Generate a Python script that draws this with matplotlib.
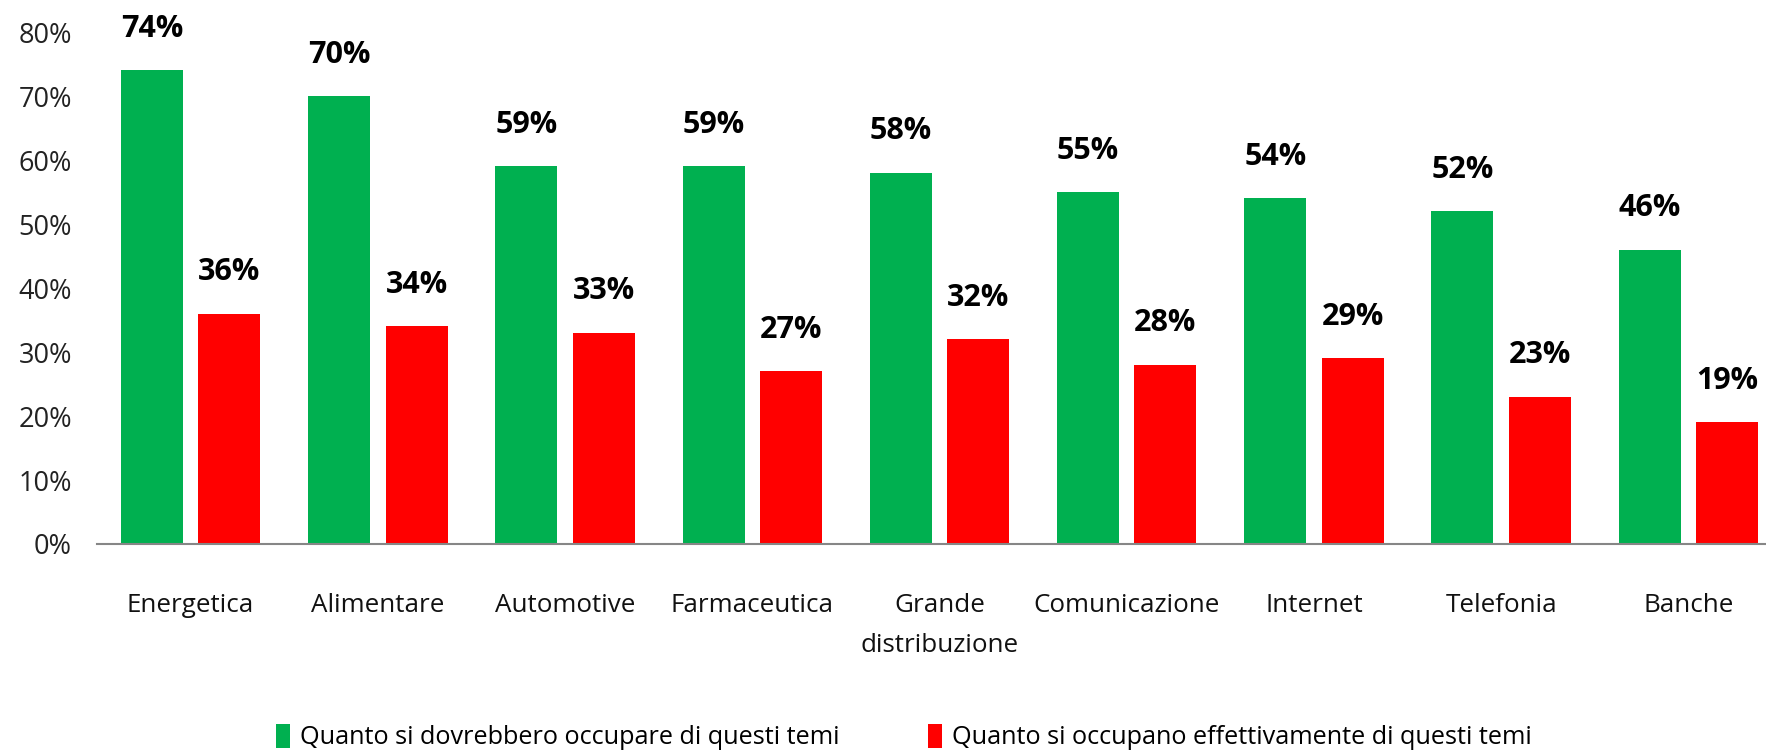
import matplotlib
matplotlib.use("Agg")
import matplotlib.pyplot as plt
import numpy as np
from matplotlib.ticker import FuncFormatter

categories = ["Energetica", "Alimentare", "Automotive", "Farmaceutica", "Grande\ndistribuzione",
              "Comunicazione", "Internet", "Telefonia", "Banche"]
dovrebbero = [74, 70, 59, 59, 58, 55, 54, 52, 46]
effettivamente = [36, 34, 33, 27, 32, 28, 29, 23, 19]
series_names = ["Quanto si dovrebbero occupare di questi temi",
                "Quanto si occupano effettivamente di questi temi"]
yticks = [0, 10, 20, 30, 40, 50, 60, 70, 80]

plt.rcParams['font.family'] = ['Open Sans', 'DejaVu Sans']

W, H = 1766, 755
fig = plt.figure(figsize=(W/100, H/100), dpi=100)
left = 97 / W
right = 1782 / W
bottom = (H - 544) / H
top = (H - 32) / H
ax = fig.add_axes([left, bottom, right - left, top - bottom])

x = np.arange(len(categories))
bw = 0.331
gap = 0.083
off = (bw + gap) / 2
green = "#00B050"
red = "#FF0000"
b1 = ax.bar(x - off, dovrebbero, bw, color=green, label=series_names[0])
b2 = ax.bar(x + off, effettivamente, bw, color=red, label=series_names[1])

for bars, vals in ((b1, dovrebbero), (b2, effettivamente)):
    for r, v in zip(bars, vals):
        ax.annotate(f"{v}%", (r.get_x() + r.get_width() / 2, v), xytext=(0, 19),
                    textcoords="offset points", ha="center", va="bottom",
                    fontsize=22, fontweight="bold", color="#000000")

ax.set_xlim(-0.5, len(categories) - 0.5)
ax.set_ylim(0, 80)
ax.set_yticks(yticks)
ax.yaxis.set_major_formatter(FuncFormatter(lambda v, p: f"{int(v)}%"))
ax.set_xticks(x)
ax.set_xticklabels(categories, linespacing=1.8)
ax.tick_params(axis="y", length=0, pad=18, labelsize=19.5, labelcolor="#222222")
ax.tick_params(axis="x", length=0, pad=35, labelsize=18.7, labelcolor="#111111")
for s in ("top", "right", "left"):
    ax.spines[s].set_visible(False)
ax.spines["bottom"].set_color("#868686")
ax.spines["bottom"].set_linewidth(1.5)

fig.legend(handles=[b1, b2], labels=series_names, loc="center", bbox_to_anchor=(0.512, 0.024),
           ncol=2, frameon=False, fontsize=18.2, handlelength=0.55, handleheight=1.1,
           handletextpad=0.4, columnspacing=3.5)

fig.savefig("out.png", dpi=100)
